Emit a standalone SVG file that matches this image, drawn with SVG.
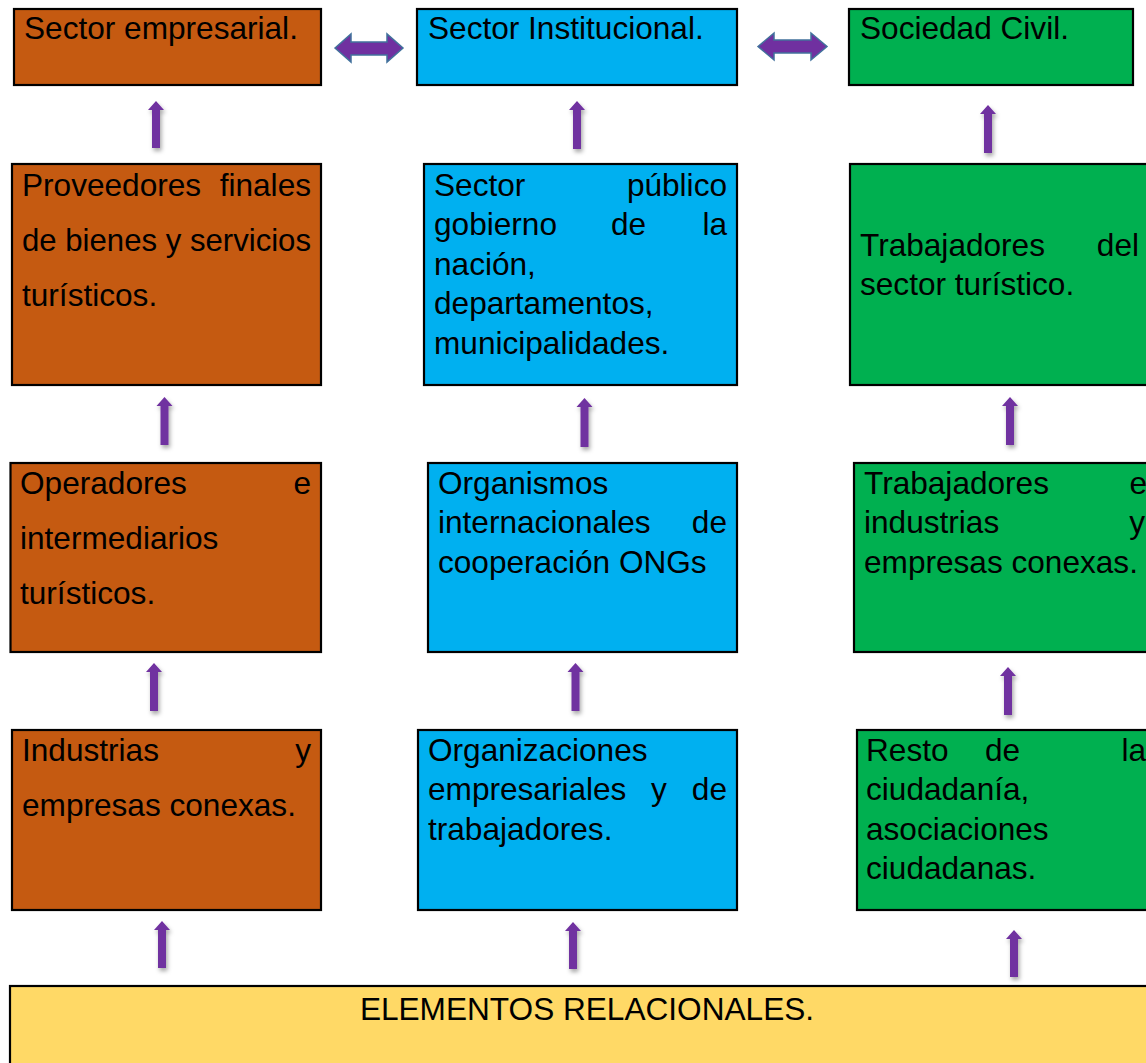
<svg xmlns="http://www.w3.org/2000/svg" width="1146" height="1063" viewBox="0 0 1146 1063">
<style>
.box{stroke:#000;stroke-width:2.2}
.o{fill:#C55A11}.b{fill:#00B0F0}.g{fill:#00B050}.y{fill:#FFD966}
text{font-family:"Liberation Sans",Arial,sans-serif;font-size:31.6px;fill:#000}
.e{text-anchor:end}
.up{fill:#7030A0;filter:url(#sh)}
.dbl{fill:#7030A0;stroke:#41719C;stroke-width:1.5;stroke-linejoin:miter}
</style>
<defs>
<filter id="sh" x="-50%" y="-20%" width="200%" height="160%">
<feDropShadow dx="1.5" dy="3" stdDeviation="2" flood-color="#000" flood-opacity="0.35"/>
</filter>
</defs>
<rect width="1146" height="1063" fill="#fff"/>

<g id="a1"><rect class="box o" x="14" y="9" width="307" height="76"/><text x="24" y="39">Sector empresarial.</text></g>
<g id="b1"><rect class="box b" x="417" y="9" width="320" height="76"/><text x="428" y="39">Sector Institucional.</text></g>
<g id="c1"><rect class="box g" x="849" y="9" width="284" height="76"/><text x="860" y="39">Sociedad Civil.</text></g>

<g id="a2"><rect class="box o" x="12" y="164" width="309" height="221"/>
<text x="22" y="196">Proveedores</text><text class="e" x="311" y="196">finales</text>
<text x="22" y="251" textLength="289" lengthAdjust="spacingAndGlyphs">de bienes y servicios</text>
<text x="22" y="306">turísticos.</text></g>
<g id="b2"><rect class="box b" x="424" y="164" width="313" height="221"/>
<text x="434" y="196">Sector</text><text class="e" x="727" y="196">público</text>
<text x="434" y="235">gobierno</text><text x="611" y="235">de</text><text class="e" x="727" y="235">la</text>
<text x="434" y="275">nación,</text>
<text x="434" y="314">departamentos,</text>
<text x="434" y="354">municipalidades.</text></g>
<g id="c2"><rect class="box g" x="850" y="164" width="310" height="221"/>
<text x="860" y="256">Trabajadores</text><text class="e" x="1139" y="256">del</text>
<text x="860" y="295">sector turístico.</text></g>

<g id="a3"><rect class="box o" x="10.5" y="463" width="310.5" height="189"/>
<text x="20" y="494">Operadores</text><text class="e" x="311" y="494">e</text>
<text x="20" y="549">intermediarios</text>
<text x="20" y="604">turísticos.</text></g>
<g id="b3"><rect class="box b" x="428" y="463" width="309" height="189"/>
<text x="438" y="494">Organismos</text>
<text x="438" y="533">internacionales</text><text class="e" x="727" y="533">de</text>
<text x="438" y="573">cooperación ONGs</text></g>
<g id="c3"><rect class="box g" x="854" y="463" width="300" height="189"/>
<text x="864" y="494">Trabajadores</text><text class="e" x="1147" y="494">e</text>
<text x="864" y="533">industrias</text><text class="e" x="1145" y="533">y</text>
<text x="864" y="573">empresas conexas.</text></g>

<g id="a4"><rect class="box o" x="12" y="730" width="309" height="180"/>
<text x="22" y="761">Industrias</text><text class="e" x="311" y="761">y</text>
<text x="22" y="816">empresas conexas.</text></g>
<g id="b4"><rect class="box b" x="418" y="730" width="319" height="180"/>
<text x="428" y="761">Organizaciones</text>
<text x="428" y="800">empresariales</text><text x="651" y="800">y</text><text class="e" x="727" y="800">de</text>
<text x="428" y="840">trabajadores.</text></g>
<g id="c4"><rect class="box g" x="857" y="730" width="300" height="180"/>
<text x="866" y="761">Resto</text><text x="985" y="761">de</text><text class="e" x="1146" y="761">la</text>
<text x="866" y="800">ciudadanía,</text>
<text x="866" y="840">asociaciones</text>
<text x="866" y="879">ciudadanas.</text></g>

<g id="base"><rect class="box y" x="10" y="986" width="1150" height="100"/>
<text x="587" y="1020" text-anchor="middle">ELEMENTOS RELACIONALES.</text></g>

<g id="connectors">
<path class="dbl" d="M335,48 L351,34 L351,42 L387,42 L387,34 L403,48 L387,62 L387,55 L351,55 L351,62 Z"/>
<path class="dbl" d="M758,46.5 L774,33 L774,40 L811,40 L811,33 L827,46.5 L811,60 L811,53 L774,53 L774,60 Z"/>
<path class="up" d="M156,101 L164,110 L160,110 L160,148 L152,148 L152,110 L148,110 Z"/>
<path class="up" d="M577,101 L585,110 L581,110 L581,149 L573,149 L573,110 L569,110 Z"/>
<path class="up" d="M988,105 L996,114 L992,114 L992,153 L984,153 L984,114 L980,114 Z"/>
<path class="up" d="M164.5,397 L172.5,406 L168.5,406 L168.5,445 L160.5,445 L160.5,406 L156.5,406 Z"/>
<path class="up" d="M584.5,398 L592.5,407 L588.5,407 L588.5,447 L580.5,447 L580.5,407 L576.5,407 Z"/>
<path class="up" d="M1010,397 L1018,406 L1014,406 L1014,445 L1006,445 L1006,406 L1002,406 Z"/>
<path class="up" d="M154,663 L162,672 L158,672 L158,711 L150,711 L150,672 L146,672 Z"/>
<path class="up" d="M575.5,663 L583.5,672 L579.5,672 L579.5,711 L571.5,711 L571.5,672 L567.5,672 Z"/>
<path class="up" d="M1008,667 L1016,676 L1012,676 L1012,715 L1004,715 L1004,676 L1000,676 Z"/>
<path class="up" d="M162,921 L170,930 L166,930 L166,968 L158,968 L158,930 L154,930 Z"/>
<path class="up" d="M573,922 L581,931 L577,931 L577,969 L569,969 L569,931 L565,931 Z"/>
<path class="up" d="M1014,930 L1022,939 L1018,939 L1018,977 L1010,977 L1010,939 L1006,939 Z"/>
</g>
</svg>
